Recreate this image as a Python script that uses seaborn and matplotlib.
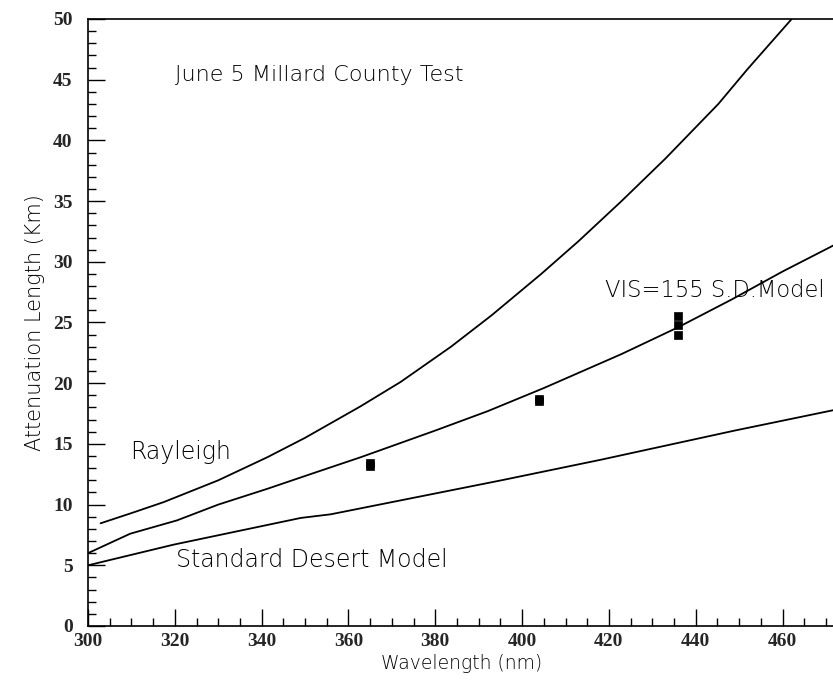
import numpy as np
import pandas as pd
import matplotlib
matplotlib.use("Agg")
import matplotlib.pyplot as plt
from matplotlib.ticker import MultipleLocator
import seaborn as sns

# curves (wavelength nm, attenuation length km)
rayleigh_wl = [302.9, 310.0, 317.4, 330.0, 341.3, 350.0, 362.8, 372.0, 383.6,
               393.0, 404.4, 413.0, 422.9, 433.0, 445.2, 452.0, 462.1]
rayleigh_len = [8.46, 9.3, 10.2, 12.0, 13.9, 15.5, 18.1, 20.1, 23.0,
                25.6, 29.0, 31.7, 35.0, 38.5, 43.0, 45.9, 50.0]

vis_wl = [300.0, 309.7, 320.5, 330.0, 341.3, 352.0, 362.8, 380.0, 392.1,
          405.0, 422.9, 435.9, 448.3, 460.0, 472.0]
vis_len = [6.0, 7.6, 8.7, 10.0, 11.3, 12.6, 13.9, 16.1, 17.7,
           19.6, 22.4, 24.6, 26.9, 29.2, 31.4]

desert_wl = [300.0, 319.7, 349.0, 355.9, 395.2, 418.2, 449.0, 472.0]
desert_len = [5.0, 6.7, 8.9, 9.2, 12.0, 13.7, 16.1, 17.8]

meas_wl = [365, 365, 404, 404, 436, 436, 436]
meas_len = [13.2, 13.4, 18.5, 18.7, 24.0, 24.8, 25.5]

sns.set_style("ticks")
plt.rcParams['font.family'] = ['DejaVu Sans']

fig = plt.figure(figsize=(8.33, 6.8), dpi=100)
ax = fig.add_axes([88 / 833, 54 / 680, 1 - 88 / 833 + 0.002, 607 / 680])

for wl, ln in [(rayleigh_wl, rayleigh_len), (vis_wl, vis_len), (desert_wl, desert_len)]:
    sns.lineplot(x=wl, y=ln, ax=ax, color='black', linewidth=1.3, sort=False)

sns.scatterplot(x=meas_wl, y=meas_len, ax=ax, color='black', marker='s', s=26,
                edgecolor='black', linewidth=0.5, zorder=5)

ax.set_xlim(300, 472)
ax.set_ylim(0, 50)
ax.xaxis.set_major_locator(MultipleLocator(20))
ax.xaxis.set_minor_locator(MultipleLocator(5))
ax.yaxis.set_major_locator(MultipleLocator(5))
ax.yaxis.set_minor_locator(MultipleLocator(1))
ax.tick_params(which='major', direction='in', length=12, width=1, color='black')
ax.tick_params(which='minor', direction='in', length=6, width=1, color='black')
ax.tick_params(axis='y', which='both', right=False)
ax.tick_params(axis='x', which='both', top=False)
for lab in ax.get_xticklabels() + ax.get_yticklabels():
    lab.set_fontfamily('Liberation Serif')
    lab.set_fontweight('bold')
    lab.set_fontsize(14)
ax.tick_params(axis='x', pad=5)
ax.tick_params(axis='y', pad=11)
for sp in ax.spines.values():
    sp.set_linewidth(1.2)
    sp.set_color('black')

light = dict(fontweight='light', color='black')
ax.set_xlabel('Wavelength (nm)', fontsize=13.5, labelpad=3, **light)
ax.set_ylabel('Attenuation Length (Km)', fontsize=15, labelpad=6, **light)

ax.text(320, 45.4, 'June 5 Millard County Test', fontsize=16, va='center', **light)
ax.text(309.7, 14.3, 'Rayleigh', fontsize=17, va='center', **light)
ax.text(419.2, 27.6, 'VIS=155 S.D.Model', fontsize=16.3, va='center', **light)
ax.text(320.3, 5.4, 'Standard Desert Model', fontsize=17, va='center', **light)

fig.savefig('out.png', dpi=100)
